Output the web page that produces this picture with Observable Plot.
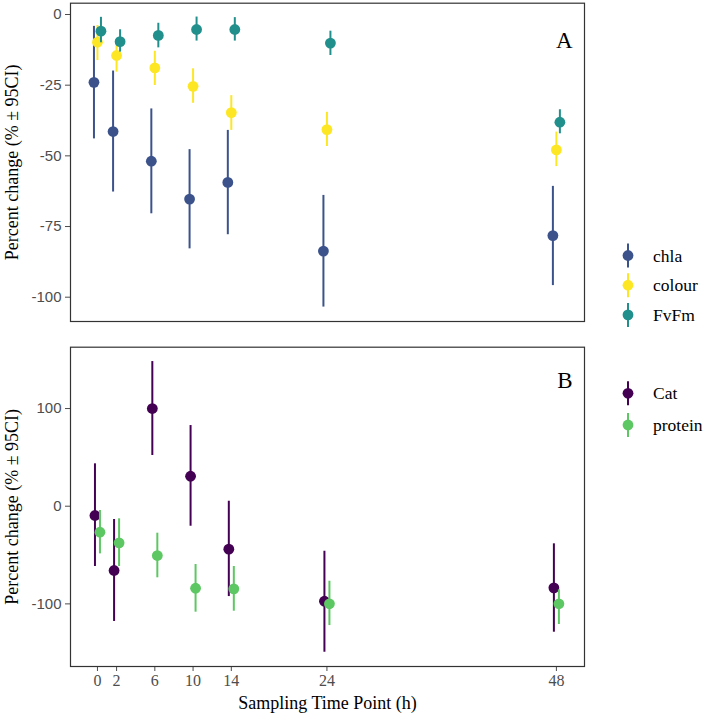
<!DOCTYPE html>
<html>
<head>
<meta charset="utf-8">
<script src="https://cdn.jsdelivr.net/npm/d3@7"></script>
<script src="https://cdn.jsdelivr.net/npm/@observablehq/plot@0.6"></script>
<style>
  body { margin: 0; background: #fff; }
  #wrap { position: relative; width: 708px; height: 714px; background: #fff; }
  #wrap > * { position: absolute; left: 0; }
</style>
</head>
<body>
<div id="wrap"></div>
<script>
// ---- data ----
const hours = [0, 2, 6, 10, 14, 24, 48];

// Panel A
const seriesA = ["chla", "colour", "FvFm"];
const chlaMean = [-24.0, -41.4, -51.9, -65.3, -59.4, -83.7, -78.2];
const chlaLo   = [-44.0, -62.8, -70.5, -82.9, -77.9, -103.5, -95.9];
const chlaHi   = [-4.2, -20.0, -33.4, -47.8, -41.0, -64.0, -60.8];
const colourMean = [-9.8, -14.5, -18.9, -25.4, -34.7, -40.7, -47.9];
const colourLo   = [-16.3, -20.4, -25.1, -31.4, -41.0, -46.7, -53.8];
const colourHi   = [-3.9, -10.4, -13.0, -19.2, -28.7, -34.6, -41.6];
const fvfmMean = [-5.9, -9.6, -7.4, -5.3, -5.3, -10.1, -38.1];
const fvfmLo   = [-10.0, -13.3, -11.8, -9.4, -9.4, -14.5, -42.2];
const fvfmHi   = [-1.0, -5.4, -3.1, -0.9, -1.1, -5.9, -33.7];

// Panel B
const seriesB = ["Cat", "protein"];
const catMean = [-9.5, -65.8, 100.0, 30.7, -44.0, -97.3, -83.6];
const catLo   = [-61.7, -118.0, 51.9, -20.5, -92.5, -149.5, -129.0];
const catHi   = [43.4, -13.6, 148.1, 82.6, 5.1, -46.1, -38.5];
const proteinMean = [-26.6, -37.5, -50.5, -84.0, -84.6, -99.9, -99.9];
const proteinLo   = [-48.8, -61.7, -73.3, -108.5, -107.5, -122.2, -121.1];
const proteinHi   = [-4.4, -12.9, -27.6, -59.7, -61.7, -76.8, -85.6];

const yTicksA = [0, -25, -50, -75, -100];
const yTicksB = [100, 0, -100];
const xTicks = hours;
const yLabel = "Percent change (% \u00B1 95CI)";
const xLabel = "Sampling Time Point (h)";

// ---- build tables ----
function rows(series, mean, lo, hi) {
  return hours.map((h, i) => ({series, hour: h, mean: mean[i], lo: lo[i], hi: hi[i]}));
}
const dataA = [
  ...rows("chla", chlaMean, chlaLo, chlaHi),
  ...rows("colour", colourMean, colourLo, colourHi),
  ...rows("FvFm", fvfmMean, fvfmLo, fvfmHi)
];
const dataB = [
  ...rows("Cat", catMean, catLo, catHi),
  ...rows("protein", proteinMean, proteinLo, proteinHi)
];

const colorsA = ["#3B528B", "#FDE725", "#21908C"];
const colorsB = ["#440154", "#5DC863"];
const dodgeA = {chla: -3.5, colour: 0, FvFm: 3.5};
const dodgeB = {Cat: -2.5, protein: 2.5};

const serif = "'Liberation Serif', 'Times New Roman', serif";
const sans = "'Liberation Sans', Arial, sans-serif";
const xDomain = [-2.82, 50.94];

function seriesMarks(data, names, colors, dodge) {
  const marks = [];
  names.forEach((name, k) => {
    const d = data.filter(r => r.series === name);
    marks.push(Plot.ruleX(d, {x: "hour", y1: "lo", y2: "hi", stroke: colors[k], strokeWidth: 2, dx: dodge[name]}));
    marks.push(Plot.dot(d, {x: "hour", y: "mean", r: 5.4, fill: colors[k], stroke: "none", dx: dodge[name]}));
  });
  return marks;
}

const wrap = document.getElementById("wrap");

// Panel A
const plotA = Plot.plot({
  width: 708, height: 325,
  marginLeft: 70, marginRight: 124, marginTop: 2.7, marginBottom: 4,
  x: {domain: xDomain, axis: null},
  y: {domain: [-108.6, 4.0]},
  style: {background: "transparent", fontFamily: serif, overflow: "visible"},
  marks: [
    Plot.axisY({ticks: yTicksA, tickFormat: d => String(d), tickSize: 5, tickPadding: 4,
      fontSize: 15, fontFamily: sans, color: "#4d4d4d", label: null}),
    ...seriesMarks(dataA, seriesA, colorsA, dodgeA),
    Plot.frame({stroke: "#333", strokeWidth: 1.2}),
    Plot.text(["A"], {frameAnchor: "top-right", lineAnchor: "middle", dx: -12, dy: 37.5, fontSize: 23, fontFamily: serif, fill: "#000", textAnchor: "end"}),
    Plot.text([yLabel], {frameAnchor: "left", textAnchor: "middle", lineAnchor: "middle", dx: -58, rotate: -90, fontSize: 18, fontFamily: serif, fill: "#000"})
  ]
});
plotA.style.top = "0px";
wrap.appendChild(plotA);

// Panel B
const plotB = Plot.plot({
  width: 708, height: 384,
  marginLeft: 70, marginRight: 124, marginTop: 16.7, marginBottom: 48,
  x: {domain: xDomain},
  y: {domain: [-164.1, 162.8]},
  style: {background: "transparent", fontFamily: serif, overflow: "visible"},
  marks: [
    Plot.axisY({ticks: yTicksB, tickFormat: d => String(d), tickSize: 5, tickPadding: 4,
      fontSize: 15, fontFamily: sans, color: "#4d4d4d", label: null}),
    Plot.axisX({ticks: xTicks, tickFormat: d => String(d), tickSize: 5, tickPadding: 3,
      fontSize: 16, fontFamily: serif, color: "#4d4d4d", label: null}),
    ...seriesMarks(dataB, seriesB, colorsB, dodgeB),
    Plot.frame({stroke: "#333", strokeWidth: 1.2}),
    Plot.text(["B"], {frameAnchor: "top-right", lineAnchor: "middle", dx: -12, dy: 33.5, fontSize: 23, fontFamily: serif, fill: "#000", textAnchor: "end"}),
    Plot.text([yLabel], {frameAnchor: "left", textAnchor: "middle", lineAnchor: "middle", dx: -58, rotate: -90, fontSize: 18, fontFamily: serif, fill: "#000"}),
    Plot.text([xLabel], {frameAnchor: "bottom", lineAnchor: "middle", dy: 37, fontSize: 18, fontFamily: serif, fill: "#000"})
  ]
});
plotB.style.top = "330px";
wrap.appendChild(plotB);

// Legends
const leg = d3.select(wrap).append("svg")
  .attr("width", 708).attr("height", 714)
  .style("top", "0px").style("pointer-events", "none");
function legend(names, colors, y0, step) {
  names.forEach((n, i) => {
    const y = y0 + i * step;
    leg.append("line").attr("x1", 628).attr("x2", 628).attr("y1", y - 12).attr("y2", y + 12)
      .attr("stroke", colors[i]).attr("stroke-width", 2);
    leg.append("circle").attr("cx", 628).attr("cy", y).attr("r", 5.4).attr("fill", colors[i]);
    leg.append("text").attr("x", 653).attr("y", y).attr("dy", "0.35em")
      .attr("font-family", serif).attr("font-size", 17.5).attr("fill", "#000").text(n);
  });
}
legend(seriesA, colorsA, 255.5, 29.7);
legend(seriesB, colorsB, 393.3, 31.7);
</script>
</body>
</html>
